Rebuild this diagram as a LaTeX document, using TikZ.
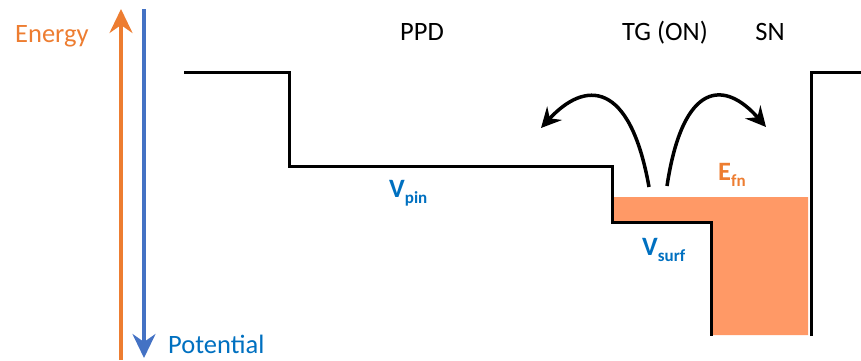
\documentclass[tikz,border=0pt]{standalone}
\usepackage{fontspec}
\setmainfont{Carlito}
\usetikzlibrary{arrows.meta}
\definecolor{axorange}{HTML}{ED7D31}
\definecolor{axblue}{HTML}{4472C4}
\definecolor{lblblue}{HTML}{0070C0}
\definecolor{fillorange}{RGB}{255,153,102}
\begin{document}
\begin{tikzpicture}[x=1pt,y=1pt,
  lbl/.style={inner sep=0pt,font=\fontsize{26.5}{30}\selectfont},
  sublbl/.style={inner sep=0pt,font=\fontsize{26.5}{30}\selectfont\bfseries},
  band/.style={line width=3pt,line join=miter},
  axis/.style={line width=3.5pt,-{Stealth[length=24pt,width=23pt,inset=8pt]}},
  hop/.style={line width=3.5pt,-{Stealth[length=20pt,width=20pt,inset=7pt]}}]
\useasboundingbox (0,0) rectangle (861,360);
% filled electrons
\fill[fillorange] (612,163) -- (808,163) -- (808,25) -- (711,25) -- (711,138) -- (612,138) -- cycle;
% band profile
\coordinate (b1) at (184,288);
\coordinate (b2) at (289,288);
\coordinate (b3) at (289,194);
\coordinate (b4) at (612,194);
\coordinate (b5) at (612,138);
\coordinate (b6) at (711,138);
\coordinate (b7) at (711,24);
\coordinate (w1) at (811,24);
\coordinate (w2) at (811,288);
\coordinate (w3) at (861,288);
\draw[band] (b1) -- (b2) -- (b3) -- (b4) -- (b5) -- (b6) -- (b7);
\draw[band] (w1) -- (w2) -- (w3);
% axes
\coordinate (e0) at (121,0);
\coordinate (e1) at (121,351);
\coordinate (p0) at (144,351);
\coordinate (p1) at (144,2);
\draw[axis,axorange] (e0) -- (e1);
\draw[axis,axblue] (p0) -- (p1);
% labels
\node[lbl,text=axorange,anchor=base west] (energy) at (15,318) {Energy};
\node[lbl,text=lblblue,anchor=base west] (potential) at (168,7) {Potential};
\node[lbl,anchor=base] (ppd) at (422,320) {PPD};
\node[lbl,anchor=base] (tg) at (665,320) {TG (ON)};
\node[lbl,anchor=base] (sn) at (770,320) {SN};
\node[sublbl,text=lblblue,anchor=base west] (vpin) at (389,163) {V\raisebox{-6pt}{\fontsize{17}{20}\selectfont pin}};
\node[sublbl,text=lblblue,anchor=base west] (vsurf) at (642,105) {V\raisebox{-6pt}{\fontsize{17}{20}\selectfont surf}};
\node[sublbl,text=axorange,anchor=base west] (efn) at (718,180) {E\raisebox{-6pt}{\fontsize{17}{20}\selectfont fn}};
% hopping arrows
\coordinate (h1s) at (649,173);
\coordinate (h1e) at (541,232);
\coordinate (h2s) at (667,174);
\coordinate (h2e) at (766,233);
\draw[hop] (h1s) .. controls (630,280) and (585,280) .. (h1e);
\draw[hop] (h2s) .. controls (683,280) and (725,280) .. (h2e);
\end{tikzpicture}
\end{document}
